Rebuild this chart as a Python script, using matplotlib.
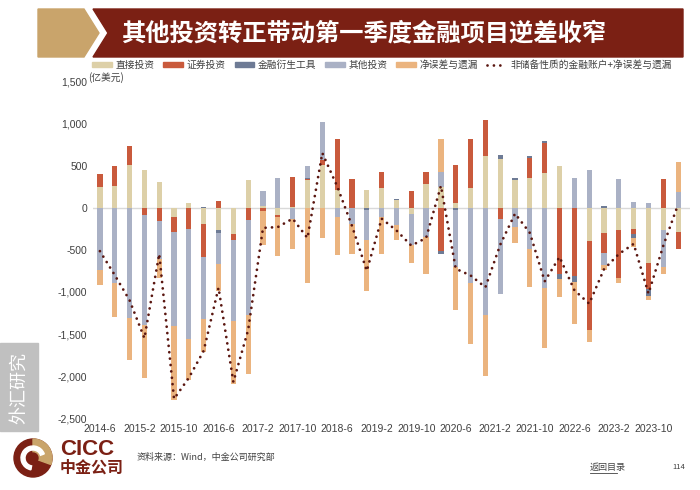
import numpy as np
import matplotlib
matplotlib.use('Agg')
import matplotlib.pyplot as plt
from matplotlib.patches import Polygon, Rectangle, Circle, Wedge, Patch
from matplotlib.lines import Line2D

plt.rcParams['font.family'] = ['Noto Sans CJK SC', 'DejaVu Sans']

# quarterly data, 亿美元
quarters = ['2014-6', '2014-9', '2014-12', '2015-3', '2015-6', '2015-9', '2015-12', '2016-3',
            '2016-6', '2016-9', '2016-12', '2017-3', '2017-6', '2017-9', '2017-12', '2018-3',
            '2018-6', '2018-9', '2018-12', '2019-3', '2019-6', '2019-9', '2019-12', '2020-3',
            '2020-6', '2020-9', '2020-12', '2021-3', '2021-6', '2021-9', '2021-12', '2022-3',
            '2022-6', '2022-9', '2022-12', '2023-3', '2023-6', '2023-9', '2023-12', '2024-3']

direct = [250, 260, 510, 445, 310, -115, 50, -190, -265, -310,
          330, 20, -90, 10, 330, 510, 210, 0, 215, 230,
          90, -70, 280, 240, 60, 230, 610, 580, 330, 350,
          410, 490, 0, -400, -295, -270, -255, -655, -260, -290]
securities = [150, 240, 225, -90, -160, -170, -255, -400, 85, -70,
              -150, -40, -20, 350, 15, 60, 610, 340, 0, 190,
              0, 200, 145, -510, 445, 590, 435, -130, 0, 240,
              360, -790, -815, -1055, -240, -560, -60, -310, 345, -200]
derivatives = [0, 0, 0, 0, 0, 0, 0, 10, -30, 0,
               0, 0, 0, 0, 5, 0, 0, 0, -25, 0,
               12, 0, 0, -45, -30, 0, 0, 40, 28, 25,
               28, -60, -70, 0, 15, 0, -40, -80, 0, 0]
other_inv = [-735, -895, -1315, -1300, -450, -1120, -1305, -730, -370, -970,
             -1130, 180, 350, -130, 150, 450, -110, -190, -360, -115,
             -210, -370, -350, 180, -680, -900, -1275, -900, -230, -490,
             -950, 0, 350, 450, -150, 345, 70, 50, -440, 190]
errors = [-185, -400, -490, -630, -220, -880, -490, -390, -320, -740,
          -690, -400, -465, -360, -890, -360, -450, -360, -610, -430,
          -170, -220, -440, 400, -510, -720, -725, 0, -190, -450,
          -720, -210, -500, -145, -60, -70, -110, -50, -90, 350]
fin_account = [-516, -800, -1100, -1550, -550, -2270, -2020, -1700, -950, -2070,
               -1450, -240, -230, -130, -360, 650, 255, -215, -750, -130,
               -270, -450, -360, 260, -725, -805, -945, -440, -70, -300,
               -875, -585, -980, -1140, -730, -550, -430, -1020, -450, 40]

series_names = ['直接投资', '证券投资', '金融衍生工具', '其他投资', '净误差与遗漏']
series_colors = ['#ddd0a8', '#c95a3c', '#6e7b95', '#aab1c5', '#ebb47f']
line_name = '非储备性质的金融账户+净误差与遗漏'
tick_labels = ['2014-6', '2015-2', '2015-10', '2016-6', '2017-2', '2017-10', '2018-6', '2019-2',
               '2019-10', '2020-6', '2021-2', '2021-10', '2022-6', '2023-2', '2023-10']

W, H = 700, 490
MAROON = '#7b2014'
GOLD = '#c9a46b'
DOTS = (0, (0.01, 2.3))


def month_pos(label):
    y, m = label.split('-')
    return (int(y) - 2014) * 12 + int(m) - 6


def draw_stacked(ax, x, data):
    pos_base = np.zeros(len(x))
    neg_base = np.zeros(len(x))
    for vals, color in zip(data, series_colors):
        v = np.array(vals, dtype=float)
        pos = np.where(v > 0, v, 0)
        neg = np.where(v < 0, v, 0)
        ax.bar(x, pos, bottom=pos_base, width=1.05, color=color, linewidth=0, zorder=2)
        ax.bar(x, neg, bottom=neg_base, width=1.05, color=color, linewidth=0, zorder=2)
        pos_base += pos
        neg_base += neg


def px(x, y):
    # pixel coords (top-left origin) -> figure fraction
    return x / W, 1 - y / H


fig = plt.figure(figsize=(7, 4.9), dpi=100)

# decoration layer
deco = fig.add_axes([0, 0, 1, 1])
deco.set_xlim(0, W)
deco.set_ylim(H, 0)
deco.axis('off')
deco.add_patch(Polygon([(38, 9), (84, 9), (99, 33), (84, 57), (38, 57)], closed=True, color=GOLD))
deco.add_patch(Polygon([(93, 9), (683, 9), (683, 57), (93, 57), (108, 33)], closed=True, color=MAROON))
deco.text(121, 34, '其他投资转正带动第一季度金融项目逆差收窄', color='white', fontsize=17.5,
          fontweight='bold', va='center', ha='left')

# side tab
deco.add_patch(Rectangle((0, 343), 38, 88, color='#c0c0c0'))
deco.text(19, 388, '外汇研究', color='white', fontsize=13, rotation=90, ha='center', va='center')

# logo
deco.add_patch(Circle((33, 458), 19, color=MAROON))
deco.add_patch(Wedge((33, 458), 19, -90, 20, color=GOLD))
deco.add_patch(Wedge((33, 458), 12, 100, 340, width=4, color='white'))
deco.add_patch(Circle((33, 458), 5, color=MAROON))
deco.text(60, 449, 'CICC', color=MAROON, fontsize=16, fontweight='bold', va='center',
          family=['Liberation Sans', 'DejaVu Sans'])
deco.text(60, 468, '中金公司', color=MAROON, fontsize=11.5, fontweight='bold', va='center')

deco.text(137, 457, '资料来源：Wind，中金公司研究部', color='#404040', fontsize=6.5, va='center')
deco.text(590, 467, '返回目录', color='#404040', fontsize=6.5, va='center')
deco.plot([590, 617], [473, 473], color='#404040', lw=0.6)
deco.text(672, 467, '114', color='#404040', fontsize=5.5, va='center')

# chart
ax = fig.add_axes([93 / W, 1 - 418.2 / H, 597 / W, 336.8 / H])
x = np.array([month_pos(q) for q in quarters])
draw_stacked(ax, x, [direct, securities, derivatives, other_inv, errors])
ax.axhline(0, color='#d9d9d9', lw=1.0, zorder=1)
ax.plot(x, fin_account, color='#5a1610', lw=2.0, linestyle=DOTS,
        dash_capstyle='round', zorder=3)

ax.set_xlim(-1.4, 119.4)
ax.set_ylim(-2500, 1500)
ax.set_yticks(np.arange(-2500, 1501, 500))
ax.set_yticklabels(['{:,}'.format(v) for v in np.arange(-2500, 1501, 500)])
ax.set_xticks([month_pos(t) for t in tick_labels])
ax.set_xticklabels(tick_labels)
ax.tick_params(length=0, labelsize=7.5, colors='#404040', pad=4)
for lab in ax.get_xticklabels() + ax.get_yticklabels():
    lab.set_family(['Liberation Sans', 'DejaVu Sans'])
for s in ax.spines.values():
    s.set_visible(False)
ax.patch.set_alpha(0)

deco.text(88, 78, '(亿美元)', color='#404040', fontsize=7, va='center')

handles = [Patch(color=c, label=n) for c, n in zip(series_colors, series_names)]
handles.append(Line2D([0], [0], color='#5a1610', lw=2.0, linestyle=DOTS,
                      dash_capstyle='round', label=line_name))
fig.legend(handles=handles, loc='center', bbox_to_anchor=(px(382, 65)), ncol=6, frameon=False,
           fontsize=7, handlelength=2.0, handleheight=0.5, handletextpad=0.4,
           columnspacing=0.9, labelcolor='#404040')

fig.savefig('out.png', dpi=100)
